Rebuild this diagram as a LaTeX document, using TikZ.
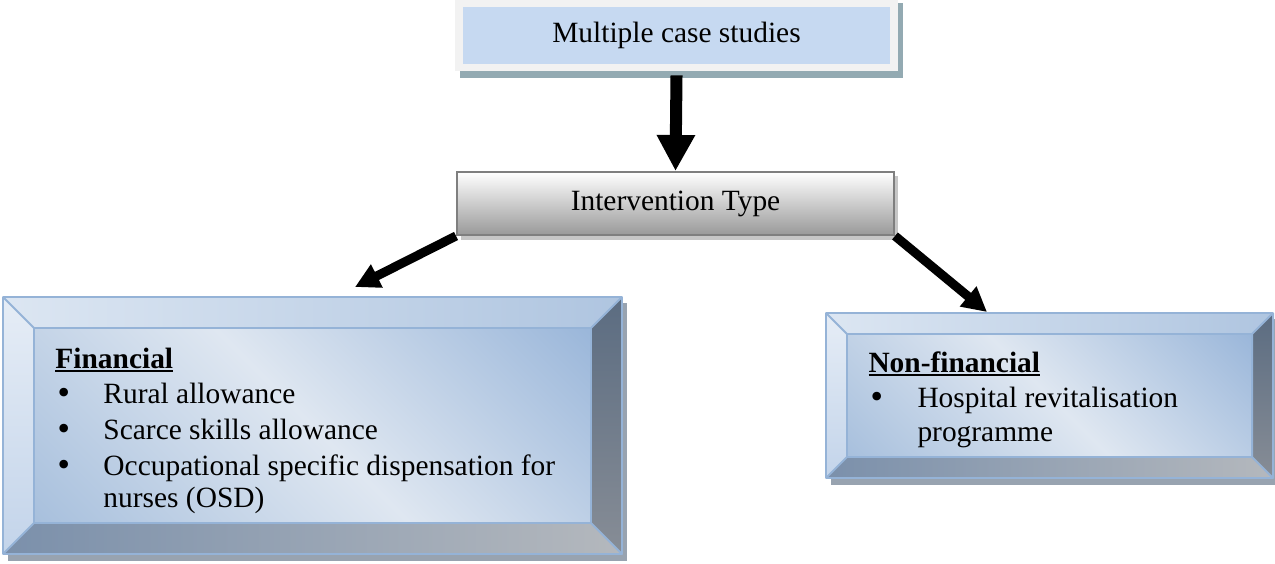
\documentclass[tikz,border=0pt]{standalone}
\usepackage{fontspec}
\setmainfont{Liberation Serif}
\newfontfamily\dotfont{DejaVu Sans}
\usetikzlibrary{arrows.meta}

% one drawing unit
\newcommand\pxu{0.408pt}

% colours
\definecolor{capblue}{HTML}{C6D9F1}
\definecolor{capframe}{HTML}{F2F2F2}
\definecolor{capshadow}{HTML}{93AAB2}
\definecolor{typeedge}{HTML}{7F7F7F}
\definecolor{typeshadow}{HTML}{C6C6C6}
\definecolor{typelow}{HTML}{999999}
\definecolor{bevline}{HTML}{95B3D7}
\definecolor{bevshadow}{HTML}{98A3B0}
\definecolor{bevTopL}{HTML}{DCE6F2}
\definecolor{bevTopR}{HTML}{AFC5E0}
\definecolor{bevLeftT}{HTML}{E6EDF6}
\definecolor{bevLeftB}{HTML}{C3D4EA}
\definecolor{bevRightT}{HTML}{5B6C81}
\definecolor{bevRightB}{HTML}{878D96}
\definecolor{bevBotL}{HTML}{7B90AB}
\definecolor{bevBotR}{HTML}{B4B8BD}
\definecolor{faceA}{HTML}{A8C0DD}
\definecolor{faceB}{HTML}{DFE7F1}
\definecolor{faceC}{HTML}{9BB7DA}

\pgfdeclarehorizontalshading{bevface}{100bp}{color(0bp)=(faceA); color(15bp)=(faceA); color(50bp)=(faceB); color(85bp)=(faceC); color(100bp)=(faceC)}

% bevelled panel: x1 y1 x2 y2 bevel
\newcommand\bevelbox[5]{%
  \fill[bevshadow] (#1+5,#2+6) rectangle (#3+5,#4+7);
  \shade[left color=bevTopL,right color=bevTopR]
    (#1,#2) -- (#3,#2) -- (#3-#5,#2+#5) -- (#1+#5,#2+#5) -- cycle;
  \shade[top color=bevLeftT,bottom color=bevLeftB]
    (#1,#2) -- (#1+#5,#2+#5) -- (#1+#5,#4-#5) -- (#1,#4) -- cycle;
  \shade[top color=bevRightT,bottom color=bevRightB]
    (#3,#2) -- (#3,#4) -- (#3-#5,#4-#5) -- (#3-#5,#2+#5) -- cycle;
  \shade[left color=bevBotL,right color=bevBotR]
    (#1,#4) -- (#3,#4) -- (#3-#5,#4-#5) -- (#1+#5,#4-#5) -- cycle;
  \shade[shading=bevface,shading angle=45]
    (#1+#5,#2+#5) rectangle (#3-#5,#4-#5);
  \draw[bevline,line width=0.8pt,line join=round]
    (#1,#2) rectangle (#3,#4)
    (#1+#5,#2+#5) rectangle (#3-#5,#4-#5)
    (#1,#2) -- (#1+#5,#2+#5)
    (#3,#2) -- (#3-#5,#2+#5)
    (#3,#4) -- (#3-#5,#4-#5)
    (#1,#4) -- (#1+#5,#4-#5);
}

% bold heading with a solid underline
\newcommand\headword[1]{\setbox0\hbox{\textbf{#1}}\rlap{\rule[-1.7pt]{\wd0}{0.75pt}}\box0}
% list bullet
\newcommand\listdot{{\dotfont\fontsize{12}{12}\selectfont •}}

\tikzset{
  txt/.style={anchor=base west, inner sep=0pt, font=\fontsize{12}{14}\selectfont},
  boxtxt/.style={inner sep=0pt, font=\fontsize{12}{14}\selectfont},
  bigarrow/.style={line width=4.9pt, -{Triangle[width=14.7pt,length=14.7pt]}},
  sidearrow/.style={line width=3.7pt, -{Triangle[width=10pt,length=10pt]}},
  ghost/.style={inner sep=0pt, draw=none}
}

\begin{document}
\begin{tikzpicture}[x=\pxu,y=-\pxu]
\useasboundingbox (0,0) rectangle (1275,563);

% heading box
\fill[capshadow] (460,3) rectangle (903,78);
\node[boxtxt, fill=capframe, minimum width=443*\pxu, minimum height=73*\pxu] (topframe) at (676.5,34.5) {};
\node[boxtxt, fill=capblue, minimum width=427*\pxu, minimum height=57*\pxu] (top) at (676.5,35.5) {Multiple case studies};

% intervention type box
\fill[typeshadow] (461,176) rectangle (898,240);
\node[boxtxt, top color=white, bottom color=typelow, draw=typeedge, line width=0.8pt,
      minimum width=437*\pxu, minimum height=63*\pxu] (itype) at (675.5,203.5) {Intervention Type};

% financial panel
\bevelbox{3}{297}{622}{554}{31}
\node[ghost, minimum width=619*\pxu, minimum height=257*\pxu] (fin) at (312.5,425.5) {};
\node[txt] (fin-head) at (55,368) {\headword{Financial}};
\node[txt] (fin-b1) at (55,403) {\listdot};
\node[txt] (fin-i1) at (103,403) {Rural allowance};
\node[txt] (fin-b2) at (55,439) {\listdot};
\node[txt] (fin-i2) at (103,439) {Scarce skills allowance};
\node[txt] (fin-b3) at (55,475) {\listdot};
\node[txt] (fin-i3) at (103,475) {Occupational specific dispensation for};
\node[txt] (fin-i3b) at (103,507) {nurses (OSD)};

% non-financial panel
\bevelbox{826}{313}{1273}{478}{21}
\node[ghost, minimum width=447*\pxu, minimum height=165*\pxu] (nonfin) at (1049.5,395.5) {};
\node[txt] (nonfin-head) at (868,372) {\headword{Non-financial}};
\node[txt] (nonfin-b1) at (868,407) {\listdot};
\node[txt] (nonfin-i1) at (917,407) {Hospital revitalisation};
\node[txt] (nonfin-i1b) at (917,441) {programme};

% connectors
\coordinate (fintip) at (355,287);
\coordinate (nonfintip) at (987,312);
\draw[bigarrow] ([yshift=-1.6pt]topframe.south) -- (itype.north);
\draw[sidearrow] (itype.south west) -- (fintip);
\draw[sidearrow] (itype.south east) -- (nonfintip);
\end{tikzpicture}
\end{document}
